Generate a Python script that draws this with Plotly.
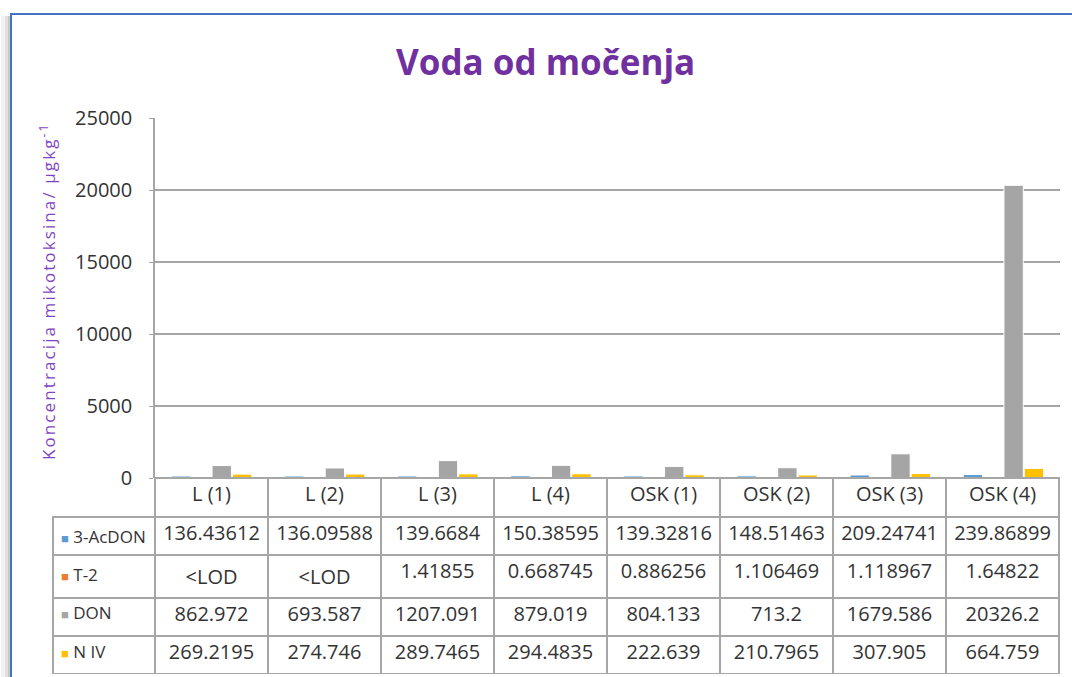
import plotly.graph_objects as go

W, H = 1072, 677

categories = ["L (1)", "L (2)", "L (3)", "L (4)", "OSK (1)", "OSK (2)", "OSK (3)", "OSK (4)"]
series_names = ["3-AcDON", "T-2", "DON", "NIV"]
series_labels = ["3-AcDON", "T-2", "DON", "N IV"]
acdon = [136.43612, 136.09588, 139.6684, 150.38595, 139.32816, 148.51463, 209.24741, 239.86899]
t2 = [None, None, 1.41855, 0.668745, 0.886256, 1.106469, 1.118967, 1.64822]
don = [862.972, 693.587, 1207.091, 879.019, 804.133, 713.2, 1679.586, 20326.2]
niv = [269.2195, 274.746, 289.7465, 294.4835, 222.639, 210.7965, 307.905, 664.759]
y_ticks = [0, 5000, 10000, 15000, 20000, 25000]

colors = ["#5B9BD5", "#ED7D31", "#A5A5A5", "#FFC000"]
series = [acdon, t2, don, niv]

FONT = "Open Sans"
GRID = "#A6A6A6"
TXT = "#333333"

def px_x(v):
    return v / W

def px_y(v):
    return 1 - v / H

fig = go.Figure()
for name, col, vals in zip(series_names, colors, series):
    fig.add_trace(go.Bar(x=categories, y=vals, name=name,
                         marker=dict(color=col, line=dict(color="white", width=1))))

def fmt(v):
    return "&lt;LOD" if v is None else str(v)

first_col = ["" for _ in series_labels]
cols = [first_col] + [[fmt(s[j]) for s in series] for j in range(len(categories))]

header_line_colors = ["rgba(0,0,0,0)"] + [GRID] * len(categories)
header_fill = ["rgba(0,0,0,0)"] + ["white"] * len(categories)

fig.add_trace(go.Table(
    domain=dict(x=[px_x(53), px_x(1059)], y=[px_y(674), px_y(478)]),
    columnwidth=[102] + [113] * len(categories),
    header=dict(values=[""] + categories, height=39,
                line=dict(color=header_line_colors, width=1.5),
                fill=dict(color=header_fill),
                align="center",
                font=dict(family=FONT, size=20, color=TXT)),
    cells=dict(values=cols, height=38,
               line=dict(color=GRID, width=1.5),
               fill=dict(color="white"),
               align="center",
               font=dict(family=FONT, size=20, color=TXT)),
))

row_centers = [536, 574, 612.5, 651]
legend_anns = []
for c, lab, yc in zip(colors, series_labels, row_centers):
    legend_anns.append(dict(
        text=f'<span style="color:{c};font-size:13px">■</span> {lab}',
        xref="paper", yref="paper", x=px_x(59), y=px_y(yc),
        xanchor="left", yanchor="middle", showarrow=False,
        font=dict(family=FONT, size=17, color=TXT)))

shapes = [
    dict(type="rect", xref="paper", yref="paper", x0=px_x(1), x1=px_x(11), y0=px_y(700), y1=px_y(16),
         fillcolor="rgba(0,0,0,0.05)", line=dict(width=0), layer="below"),
    dict(type="rect", xref="paper", yref="paper", x0=px_x(5), x1=px_x(11), y0=px_y(700), y1=px_y(16),
         fillcolor="rgba(0,0,0,0.07)", line=dict(width=0), layer="below"),
    dict(type="rect", xref="paper", yref="paper", x0=px_x(8), x1=px_x(11), y0=px_y(700), y1=px_y(16),
         fillcolor="rgba(0,0,0,0.10)", line=dict(width=0), layer="below"),
    dict(type="rect", xref="paper", yref="paper", x0=px_x(11), x1=px_x(1090), y0=px_y(700), y1=px_y(14),
         fillcolor="rgba(0,0,0,0)", line=dict(color="#4472C4", width=2)),
]

fig.update_layout(
    width=W, height=H, autosize=False,
    margin=dict(l=0, r=0, t=0, b=0, pad=0, autoexpand=False),
    paper_bgcolor="white", plot_bgcolor="white",
    showlegend=False,
    barmode="group", bargap=0.28, bargroupgap=0.05,
    font=dict(family=FONT, color=TXT),
    shapes=shapes,
    annotations=[
        dict(text="<b>Voda od močenja</b>", xref="paper", yref="paper",
             x=px_x(545), y=px_y(62), xanchor="center", yanchor="middle", showarrow=False,
             font=dict(family=FONT, size=35, color="#7030A0")),
        dict(text='<span style="letter-spacing:2.1px">Koncentracija mikotoksina/ µgkg<sup>-1</sup></span>',
             xref="paper", yref="paper",
             x=px_x(47), y=px_y(292), xanchor="center", yanchor="middle", showarrow=False,
             textangle=-90, font=dict(family=FONT, size=17, color="#7F45BF")),
    ] + legend_anns,
    xaxis=dict(domain=[px_x(155), px_x(1060)], showticklabels=False, showgrid=False,
               showline=False, ticks="", zeroline=False, fixedrange=True, automargin=False),
    yaxis=dict(domain=[px_y(478), px_y(118)], range=[0, 25000], tickvals=y_ticks,
               tickformat="d", automargin=False,
               showgrid=True, gridcolor=GRID, gridwidth=1.5, zeroline=False,
               showline=True, linecolor=GRID, linewidth=1.5,
               ticks="outside", ticklen=4, tickcolor=GRID, ticklabelstandoff=13,
               tickfont=dict(family=FONT, size=20, color=TXT)),
)

fig.write_html("out.html", config={"displayModeBar": False},
               post_script="document.body.style.margin='0';document.body.style.overflow='hidden';")
